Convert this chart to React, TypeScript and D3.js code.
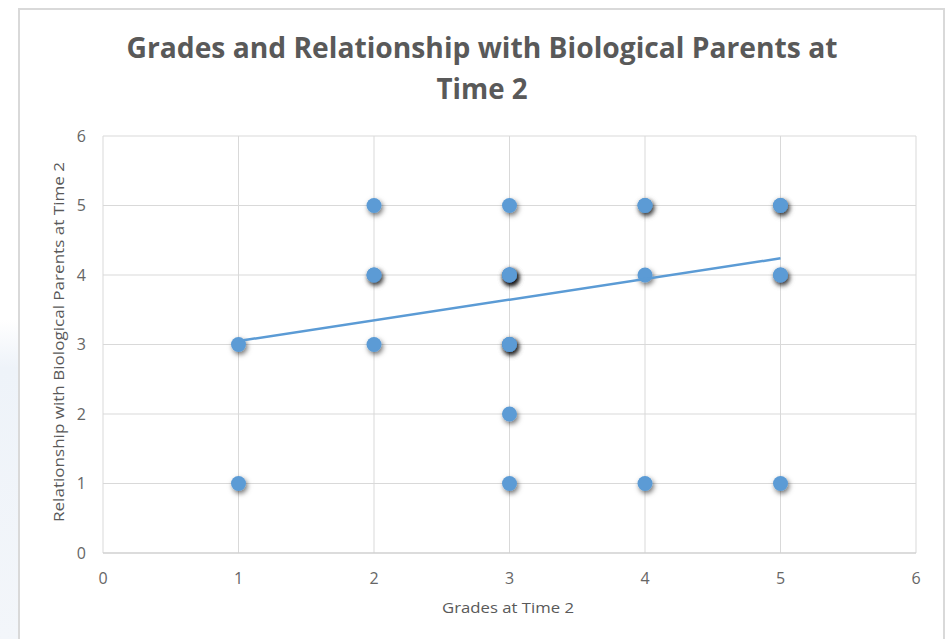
import React from "react";
import * as d3 from "d3";

// ---- data ----
const gradesX: number[] = [1, 1, 2, 2, 2, 2, 3, 3, 3, 3, 3, 3, 3, 3, 3, 3, 4, 4, 4, 4, 5, 5, 5, 5, 5];
const relationY: number[] = [1, 3, 3, 4, 4, 5, 1, 2, 3, 3, 3, 4, 4, 4, 4, 5, 1, 4, 5, 5, 1, 4, 4, 5, 5];
const trendX: number[] = [1, 5];
const trendY: number[] = [3.05, 4.24];
const xTicks: number[] = [0, 1, 2, 3, 4, 5, 6];
const yTicks: number[] = [0, 1, 2, 3, 4, 5, 6];
const titleLines: string[] = ["Grades and Relationship with Biological Parents at", "Time 2"];
const xTitle = "Grades at Time 2";
const yTitle = "Relationship with Biological Parents at Time 2";

const W = 951;
const H = 639;
const TEXT = "#595959";
const GRID = "#d9d9d9";
const BLUE = "#5b9bd5";
const FONT = "'Open Sans', 'Noto Sans', sans-serif";

export default function App() {
  const x = d3.scaleLinear().domain([0, 6]).range([103, 916]);
  const y = d3.scaleLinear().domain([0, 6]).range([553, 136]);
  const line = d3
    .line<[number, number]>()
    .x((d) => x(d[0]))
    .y((d) => y(d[1]));
  const trendPts: [number, number][] = trendX.map((v, i) => [v, trendY[i]]);
  const pts = gradesX.map((v, i) => ({ gx: v, ry: relationY[i] }));

  return (
    <div style={{ position: "absolute", left: 0, top: 0, width: W, height: H, background: "#fff" }}>
      <svg width={W} height={H} style={{ display: "block" }}>
        <defs>
          <filter id="shadow" x="-100%" y="-100%" width="300%" height="300%">
            <feDropShadow dx="1.5" dy="2.5" stdDeviation="2.4" floodColor="#000" floodOpacity="0.55" />
          </filter>
          <linearGradient id="leftfade" x1="0" y1="0" x2="0" y2="1">
            <stop offset="0" stopColor="#eef3f9" stopOpacity="0" />
            <stop offset="0.15" stopColor="#eef3f9" stopOpacity="1" />
            <stop offset="1" stopColor="#f3f6fa" stopOpacity="1" />
          </linearGradient>
        </defs>
        <rect x={0} y={320} width={18} height={319} fill="url(#leftfade)" />
        <rect x={19} y={9} width={925} height={650} fill="#fff" stroke={GRID} strokeWidth={2} />

        {/* title */}
        <text
          x={482}
          y={58}
          textAnchor="middle"
          fill={TEXT}
          fontFamily={FONT}
          fontWeight={700}
          fontSize={28}
          textLength={711}
          lengthAdjust="spacingAndGlyphs"
        >
          {titleLines[0]}
        </text>
        <text
          x={482}
          y={99}
          textAnchor="middle"
          fill={TEXT}
          fontFamily={FONT}
          fontWeight={700}
          fontSize={28}
          textLength={91}
          lengthAdjust="spacingAndGlyphs"
        >
          {titleLines[1]}
        </text>

        {/* grid */}
        {xTicks.map((t) => (
          <line key={"gx" + t} x1={x(t)} x2={x(t)} y1={y(0)} y2={y(6)} stroke={GRID} strokeWidth={1} />
        ))}
        {yTicks.map((t) => (
          <line
            key={"gy" + t}
            x1={x(0)}
            x2={x(6)}
            y1={y(t)}
            y2={y(t)}
            stroke={t === 0 ? "#d0d0d0" : GRID}
            strokeWidth={t === 0 ? 1.6 : 1}
          />
        ))}

        {/* tick labels */}
        {xTicks.map((t) => (
          <text key={"tx" + t} x={x(t)} y={584} textAnchor="middle" fill="#666" fontFamily={FONT} fontSize={16}>
            {t}
          </text>
        ))}
        {yTicks.map((t) => (
          <text key={"ty" + t} x={86} y={y(t) + 5.5} textAnchor="end" fill="#666" fontFamily={FONT} fontSize={16}>
            {t}
          </text>
        ))}

        {/* axis titles */}
        <text
          x={508}
          y={613}
          textAnchor="middle"
          fill={TEXT}
          fontFamily={FONT}
          fontSize={15}
          textLength={132}
          lengthAdjust="spacingAndGlyphs"
        >
          {xTitle}
        </text>
        <text
          transform={`translate(64,342) rotate(-90)`}
          textAnchor="middle"
          fill={TEXT}
          fontFamily={FONT}
          fontSize={15}
          textLength={360}
          lengthAdjust="spacingAndGlyphs"
        >
          {yTitle}
        </text>

        {/* points */}
        {pts.map((p, i) => (
          <circle key={"p" + i} cx={x(p.gx)} cy={y(p.ry)} r={7.5} fill={BLUE} filter="url(#shadow)" />
        ))}

        {/* trendline */}
        <path d={line(trendPts) || ""} fill="none" stroke={BLUE} strokeWidth={2.5} />
      </svg>
    </div>
  );
}
